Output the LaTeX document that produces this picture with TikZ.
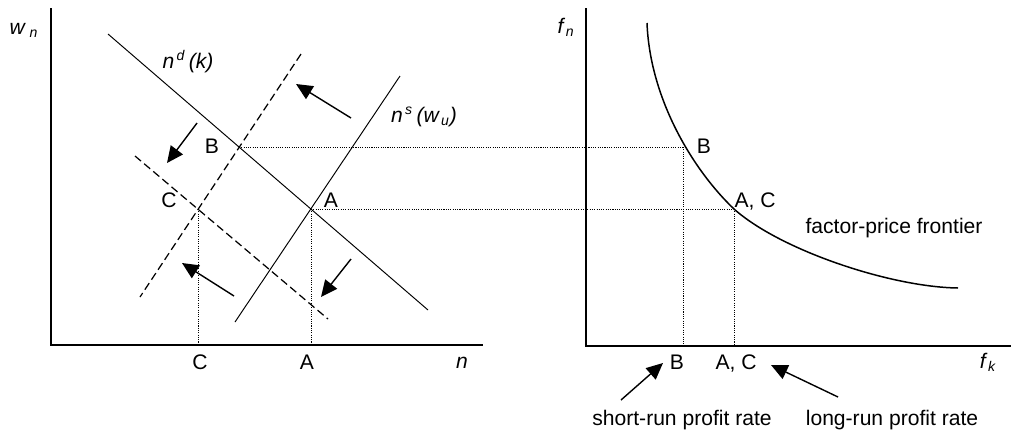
\documentclass[tikz,border=0pt]{standalone}
\usepackage{fontspec}
\setmainfont{Liberation Sans}
\usetikzlibrary{arrows.meta}

\begin{document}
\begin{tikzpicture}[x=0.02cm, y=-0.02cm, font=\fontsize{12pt}{14pt}\selectfont,
    axis/.style={line width=0.9pt},
    schedule/.style={line width=0.55pt},
    shifted/.style={line width=0.7pt, dash pattern=on 4.5pt off 2.3pt},
    guide/.style={line width=0.5pt, dash pattern=on 0.6pt off 0.7pt},
    frontier/.style={line width=0.85pt},
    shiftarrow/.style={line width=0.8pt, -{Triangle[length=3.3mm, width=3mm]}},
    lbl/.style={inner sep=0, outer sep=0, anchor=base}]
\useasboundingbox (0,0) rectangle (1011,430);
%%% Start labour market axes
        \coordinate (wtop) at (51,8);
        \coordinate (o1) at (51,345);
        \coordinate (nend) at (483,345);
        \draw[axis] (wtop) -- (o1) -- (nend);
        \draw (24,34) node[lbl] (wn) {\textit{w\textsubscript{\,\,n}}};
        \draw (462,368) node[lbl] (nlab) {\textit{n}};
%%% End labour market axes
%%% Start schedules
        \coordinate (A) at (311,209);
        \coordinate (B) at (239,147);
        \coordinate (C) at (198,209);
        \coordinate (nd0) at (108,34);
        \coordinate (nd1) at (428,310);
        \coordinate (ns0) at (400,76);
        \coordinate (ns1) at (235,322);
        \coordinate (nsd0) at (301,54);
        \coordinate (nsd1) at (140,297);
        \coordinate (ndd0) at (135,156);
        \coordinate (ndd1) at (328,319);
        \draw[schedule] (nd0) -- (nd1);
        \draw[schedule] (ns0) -- (ns1);
        \draw[shifted] (nsd0) -- (nsd1);
        \draw[shifted] (ndd0) -- (ndd1);
        \draw (188,68) node[lbl] (ndlab) {\textit{n\textsuperscript{\,d}\,(k)}};
        \draw (424,122) node[lbl] (nslab) {\textit{n\textsuperscript{\,s}\,(w\textsubscript{\,u})}};
        \draw (212,153) node[lbl] (Blab) {B};
        \draw (169,207) node[lbl] (Clab) {C};
        \draw (331,207) node[lbl] (Alab) {A};
        \draw (200,369) node[lbl] (Cn) {C};
        \draw (307,369) node[lbl] (An) {A};
%%% End schedules
%%% Start shift arrows
        \coordinate (up0) at (351,118);
        \coordinate (up1) at (296,84);
        \coordinate (dn0) at (197,123);
        \coordinate (dn1) at (167,163);
        \coordinate (lo0) at (234,296);
        \coordinate (lo1) at (182,263);
        \coordinate (rd0) at (351,259);
        \coordinate (rd1) at (321,297);
        \draw[shiftarrow] (up0) -- (up1);
        \draw[shiftarrow] (dn0) -- (dn1);
        \draw[shiftarrow] (lo0) -- (lo1);
        \draw[shiftarrow] (rd0) -- (rd1);
%%% End shift arrows
%%% Start factor-price frontier
        \coordinate (ftop) at (586,8);
        \coordinate (o2) at (586,346);
        \coordinate (fend) at (1011,346);
        \draw[axis] (ftop) -- (o2) -- (fend);
        \draw (566,33) node[lbl] (fn) {\textit{f\textsubscript{\,n}}};
        \draw (988,368) node[lbl] (fk) {\textit{f\textsubscript{\,k}}};
        \coordinate (Bf) at (683,147);
        \coordinate (ACf) at (734,209);
        \coordinate (fpf0) at (647,23);
        \coordinate (fpf1) at (958,288);
        \draw[frontier] (fpf0) .. controls (650,100) and (694,171) .. (ACf)
                               .. controls (780,250) and (890,287) .. (fpf1);
        \draw (704,153) node[lbl] (Bflab) {B};
        \draw (755,207) node[lbl] (ACflab) {A, C};
        \draw (894,233) node[lbl] (fpf) {factor-price frontier};
        \draw (677,369) node[lbl] (Bk) {B};
        \draw (736,369) node[lbl] (ACk) {A, C};
%%% End factor-price frontier
%%% Start dotted guides
        \draw[guide] (B) -- (Bf);
        \draw[guide] (A) -- (ACf);
        \draw[guide] (C) -- (C |- o1);
        \draw[guide] (A) -- (A |- o1);
        \draw[guide] (Bf) -- (Bf |- o2);
        \draw[guide] (ACf) -- (ACf |- o2);
%%% End dotted guides
%%% Start profit rates
        \draw (682,425) node[lbl] (srun) {short-run profit rate};
        \draw (892,425) node[lbl] (lrun) {long-run profit rate};
        \coordinate (sr0) at (621,400);
        \coordinate (sr1) at (663,363);
        \coordinate (lr0) at (838,397);
        \coordinate (lr1) at (771,365);
        \draw[shiftarrow] (sr0) -- (sr1);
        \draw[shiftarrow] (lr0) -- (lr1);
%%% End profit rates
\end{tikzpicture}
\end{document}
